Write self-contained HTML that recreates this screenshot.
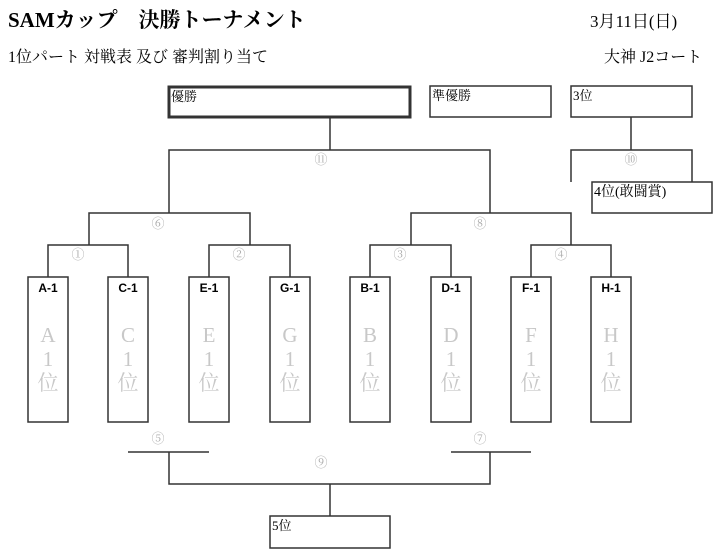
<!DOCTYPE html>
<html><head><meta charset="utf-8"><style>
html,body{margin:0;padding:0;background:#fff}
svg{display:block}
text{font-family:"Liberation Serif","Noto Serif CJK SC","Noto Sans CJK JP",serif}
.s text{font-family:"Liberation Sans","Noto Sans CJK JP",sans-serif;font-weight:bold}
.g{fill:#c8c8c8;font-size:21px}
.c{fill:#aaa;font-size:13px}
</style></head><body>
<svg width="716" height="557" viewBox="0 0 716 557" xmlns="http://www.w3.org/2000/svg">
<text x="8" y="27" font-size="21" font-weight="bold">SAMカップ　決勝トーナメント</text>
<text x="590" y="27" font-size="17">3月11日(日)</text>
<text x="8" y="62" font-size="16">1位パート  対戦表 及び 審判割り当て</text>
<text x="604" y="62" font-size="16">大神 J2コート</text>
<g fill="none" stroke="#333" stroke-width="1.5">
<rect x="169" y="87" width="241" height="30" stroke-width="3"/>
<rect x="430" y="86" width="121" height="31"/>
<rect x="571" y="86" width="121" height="31"/>
<rect x="592" y="182" width="120" height="31"/>
<rect x="270" y="516" width="120" height="32"/>
<path d="M330 117V150M169 182V150H490V213M169 150V213M631 117V150M571 182V150H692V182"/>
<path d="M89 245V213H250V245M411 245V213H571V245"/>
<path d="M48 277V245H128V277M209 277V245H290V277M370 277V245H451V277M531 277V245H611V277"/>
<path d="M128 452H209M451 452H531M169 452V484H490V452M330 484V516"/>
<rect x="28" y="277" width="40" height="145"/>
<rect x="108" y="277" width="40" height="145"/>
<rect x="189" y="277" width="40" height="145"/>
<rect x="270" y="277" width="40" height="145"/>
<rect x="350" y="277" width="40" height="145"/>
<rect x="431" y="277" width="40" height="145"/>
<rect x="511" y="277" width="40" height="145"/>
<rect x="591" y="277" width="40" height="145"/>
</g>
<g font-size="13">
<text x="171" y="101">優勝</text>
<text x="432" y="100">準優勝</text>
<text x="573" y="100">3位</text>
<text x="594" y="196" font-size="14">4位(敢闘賞)</text>
<text x="272" y="530">5位</text>
</g>
<g class="c" text-anchor="middle">
<text x="321" y="164">⑪</text><text x="631" y="164">⑩</text>
<text x="158" y="228">⑥</text><text x="480" y="228">⑧</text>
<text x="78" y="259">①</text><text x="239" y="259">②</text><text x="400" y="259">③</text><text x="561" y="259">④</text>
<text x="158" y="443">⑤</text><text x="480" y="443">⑦</text><text x="321" y="467">⑨</text>
</g>
<g text-anchor="middle">
<g class="s" font-size="12">
<text x="48" y="292">A-1</text><text x="128" y="292">C-1</text><text x="209" y="292">E-1</text><text x="290" y="292">G-1</text>
<text x="370" y="292">B-1</text><text x="451" y="292">D-1</text><text x="531" y="292">F-1</text><text x="611" y="292">H-1</text>
</g>
<g class="g">
<text x="48" y="342">A</text><text x="48" y="366">1</text><text x="48" y="390">位</text>
<text x="128" y="342">C</text><text x="128" y="366">1</text><text x="128" y="390">位</text>
<text x="209" y="342">E</text><text x="209" y="366">1</text><text x="209" y="390">位</text>
<text x="290" y="342">G</text><text x="290" y="366">1</text><text x="290" y="390">位</text>
<text x="370" y="342">B</text><text x="370" y="366">1</text><text x="370" y="390">位</text>
<text x="451" y="342">D</text><text x="451" y="366">1</text><text x="451" y="390">位</text>
<text x="531" y="342">F</text><text x="531" y="366">1</text><text x="531" y="390">位</text>
<text x="611" y="342">H</text><text x="611" y="366">1</text><text x="611" y="390">位</text>
</g>
</g>
</svg>
</body></html>
